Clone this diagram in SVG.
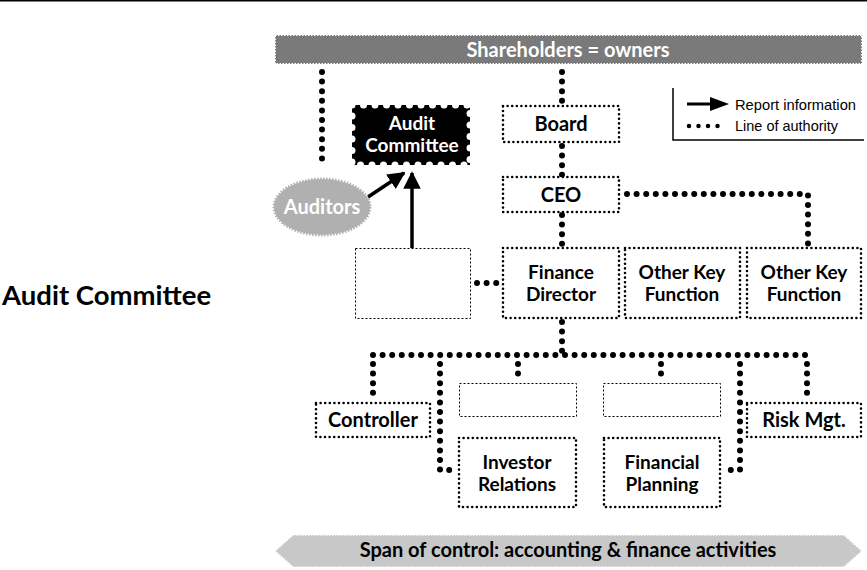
<svg xmlns="http://www.w3.org/2000/svg" width="867" height="570" viewBox="0 0 867 570">
<defs>
<style>
.t{font-family:Lato,"Open Sans","DejaVu Sans",sans-serif;font-weight:bold;text-anchor:middle;font-size:20px}
.t2{font-size:19px}
.auth{fill:none;stroke:#000;stroke-width:6;stroke-linecap:round;stroke-dasharray:0 9.6}
.box{fill:#fff;stroke:#000;stroke-width:2.6;stroke-linecap:round;stroke-dasharray:0 4.6}
.blank{fill:#fff;stroke:#000;stroke-width:1;stroke-dasharray:2 2}
.rep{fill:none;stroke:#000;stroke-width:3.5}
.leg{font-family:"Liberation Sans Narrow","Liberation Sans",Arial,sans-serif;font-size:15px}
</style>
<marker id="ah" viewBox="0 0 10 10" refX="9" refY="5" markerWidth="5" markerHeight="5" orient="auto" markerUnits="strokeWidth">
<path d="M0,0 L10,5 L0,10 Z" fill="#000"/>
</marker>
</defs>
<rect width="867" height="570" fill="#fff"/>
<line x1="0" y1="0.5" x2="867" y2="0.5" stroke="#000" stroke-width="2"/>

<text x="2" y="305" font-family="Lato,'Open Sans',sans-serif" font-weight="bold" font-size="27.5">Audit Committee</text>

<g id="connectors">
<path class="auth" d="M322,72 V168"/>
<path class="auth" d="M562,72 V104"/>
<path class="auth" d="M562,146 V175"/>
<path class="auth" d="M562,215 V246"/>
<path class="auth" d="M627,194 H808 V244"/>
<path class="auth" d="M477,283 H497"/>
<path class="auth" d="M562,322 V355"/>
<path class="auth" d="M373,355 H807"/>
<path class="auth" d="M373,364 V398"/>
<path class="auth" d="M807,364 V398"/>
<path class="auth" d="M518,364 V378"/>
<path class="auth" d="M661,364 V378"/>
<path class="auth" d="M440,364 V470 H452"/>
<path class="auth" d="M740,364 V470 H728"/>
<path class="rep" d="M368,197 L404,173" marker-end="url(#ah)"/>
<path class="rep" d="M412,248 V173" marker-end="url(#ah)"/>
</g>

<g id="shareholders">
<rect x="275" y="35" width="587" height="29" fill="#7a7a7a" stroke="#fff" stroke-width="2" stroke-dasharray="1.5 1.5"/>
<text class="t" x="568" y="57" fill="#fff">Shareholders = owners</text>
</g>

<g id="legend">
<path d="M673,88 V140 H864" fill="none" stroke="#000" stroke-width="1.5"/>
<line x1="687" y1="104" x2="712" y2="104" stroke="#000" stroke-width="3"/>
<path d="M710,97 L729,104 L710,111 Z" fill="#000"/>
<path d="M689,126 H718" fill="none" stroke="#000" stroke-width="4.5" stroke-linecap="round" stroke-dasharray="0 9.5"/>
<text class="leg" x="735" y="110" textLength="121" lengthAdjust="spacingAndGlyphs">Report information</text>
<text class="leg" x="735" y="131" textLength="103" lengthAdjust="spacingAndGlyphs">Line of authority</text>
</g>

<g id="audit-committee">
<rect x="352" y="105" width="118" height="60" fill="#000"/>
<rect x="352" y="105" width="118" height="60" fill="none" stroke="#fff" stroke-width="7" stroke-linecap="round" stroke-dasharray="0 11.5"/>
<text class="t t2" x="412" y="130" fill="#fff">Audit</text>
<text class="t t2" x="412" y="152" fill="#fff">Committee</text>
</g>

<g id="auditors">
<ellipse cx="322" cy="207" rx="48" ry="28" fill="#b0b0b0" stroke="#b0b0b0" stroke-width="3" stroke-dasharray="1.5 1.5"/>
<text class="t" x="322" y="214" fill="#fff">Auditors</text>
</g>

<g id="board">
<rect class="box" x="503" y="106" width="116" height="36"/>
<text class="t" x="561" y="131">Board</text>
</g>

<g id="ceo">
<rect class="box" x="503" y="177" width="116" height="35"/>
<text class="t" x="561" y="202">CEO</text>
</g>

<g id="blank-box">
<rect class="blank" x="355.5" y="248.5" width="115" height="70"/>
</g>

<g id="finance-director">
<rect class="box" x="503" y="248" width="116" height="70"/>
<text class="t t2" x="561" y="279">Finance</text>
<text class="t t2" x="561" y="301">Director</text>
</g>

<g id="other-key-1">
<rect class="box" x="625" y="248" width="115" height="70"/>
<text class="t t2" x="682" y="279">Other Key</text>
<text class="t t2" x="682" y="301">Function</text>
</g>

<g id="other-key-2">
<rect class="box" x="747" y="248" width="114" height="70"/>
<text class="t t2" x="804" y="279">Other Key</text>
<text class="t t2" x="804" y="301">Function</text>
</g>

<g id="controller">
<rect class="box" x="316" y="403" width="114" height="34"/>
<text class="t" x="373" y="427">Controller</text>
</g>

<g id="blank-1">
<rect class="blank" x="459.5" y="383.5" width="117" height="33"/>
</g>

<g id="blank-2">
<rect class="blank" x="603.5" y="383.5" width="117" height="33"/>
</g>

<g id="investor-relations">
<rect class="box" x="459" y="438" width="117" height="69"/>
<text class="t t2" x="517" y="469">Investor</text>
<text class="t t2" x="517" y="491">Relations</text>
</g>

<g id="financial-planning">
<rect class="box" x="604" y="438" width="116" height="69"/>
<text class="t t2" x="662" y="469">Financial</text>
<text class="t t2" x="662" y="491">Planning</text>
</g>

<g id="risk-mgt">
<rect class="box" x="747" y="403" width="114" height="34"/>
<text class="t" x="804" y="427">Risk Mgt.</text>
</g>

<g id="span-of-control">
<polygon points="275,551 293,535 844,535 862,551 844,567 293,567" fill="#c8c8c8" stroke="#fff" stroke-width="1.5" stroke-dasharray="1.5 1.5"/>
<text class="t" x="568" y="557">Span of control: accounting &amp; finance activities</text>
</g>
</svg>
